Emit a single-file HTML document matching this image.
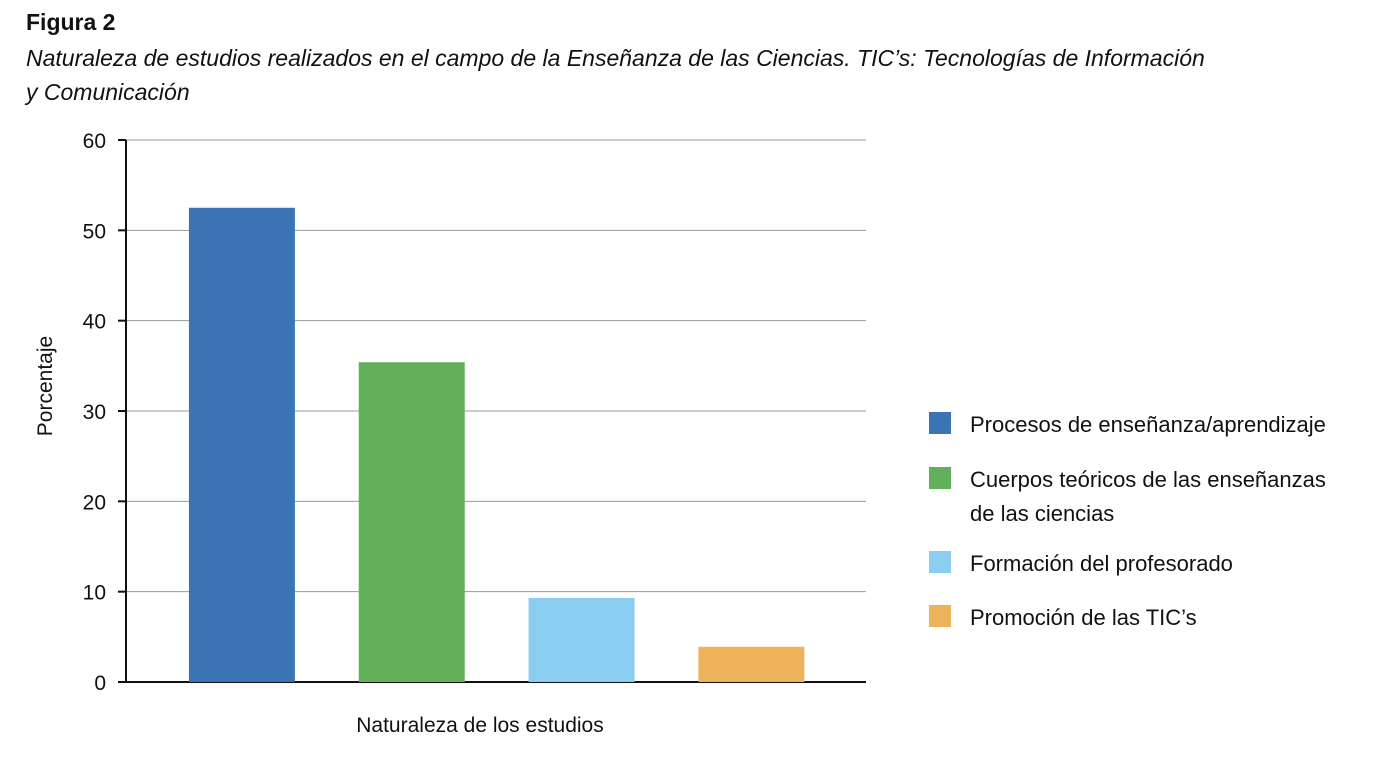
<!DOCTYPE html>
<html><head><meta charset="utf-8"><style>
body{margin:0;background:#fff;width:1384px;height:760px;overflow:hidden;font-family:"Liberation Sans",sans-serif;}
</style></head><body>
<svg width="1384" height="760" xmlns="http://www.w3.org/2000/svg" font-family="Liberation Sans, sans-serif">
<text x="26" y="30" font-size="23" font-weight="bold" fill="#111">Figura 2</text>
<text x="26" y="66" font-size="23" font-style="italic" fill="#111">Naturaleza de estudios realizados en el campo de la Enseñanza de las Ciencias. TIC’s: Tecnologías de Información</text>
<text x="26" y="100" font-size="23" font-style="italic" fill="#111">y Comunicación</text>
<g id="grid"></g><g id="bars"></g><g id="axis"></g>
<text x="480" y="732" font-size="21" text-anchor="middle" fill="#111">Naturaleza de los estudios</text>
<text transform="translate(52,386) rotate(-90)" font-size="21" text-anchor="middle" fill="#111">Porcentaje</text>
<g id="legend"></g>
</svg>
<script>
const categories=["Procesos de enseñanza/aprendizaje","Cuerpos teóricos de las enseñanzas|de las ciencias","Formación del profesorado","Promoción de las TIC’s"];
const values=[52.5,35.4,9.3,3.9];
const colors=["#3b74b4","#62b05a","#8bcdf1","#ecb35a"];
const ticks=[0,10,20,30,40,50,60];
const NS="http://www.w3.org/2000/svg";
const x0=126,x1=866,yB=682,yT=140;
const y=v=>yB-(v/60)*(yB-yT);
const band=(x1-x0)/categories.length*0.918, start=157;
const cx=i=>start+band*(i+0.5);
function mk(t,a,p){const e=document.createElementNS(NS,t);for(const k in a)e.setAttribute(k,a[k]);p.appendChild(e);return e;}
const grid=document.getElementById('grid'),axis=document.getElementById('axis'),bars=document.getElementById('bars'),leg=document.getElementById('legend');
ticks.forEach(t=>{
 const l=mk('line',{x1:x0,x2:x1,y1:y(t),y2:y(t),stroke:t===0?'#111':'#999','stroke-width':t===0?2:1},grid);
 
 
 const tk=mk('line',{x1:x0-8,x2:x0,y1:y(t),y2:y(t),stroke:'#111','stroke-width':2},axis);
 
 
 const tx=mk('text',{x:106,y:y(t)+8,'font-size':21,'text-anchor':'end',fill:'#111'},axis);
 tx.textContent=t;
 
 
});
const ax=mk('line',{x1:x0,x2:x0,y1:yT,y2:yB+1,stroke:'#111','stroke-width':2},axis);


values.forEach((v,i)=>{
 const r=mk('rect',{x:cx(i)-53,y:y(v),width:106,height:yB-y(v),fill:colors[i]},bars);
 
 
});
const ly=[424,479,563,617];
categories.forEach((c,i)=>{
 const r=mk('rect',{x:929,y:ly[i]-12,width:22,height:22,fill:colors[i]},leg);
 
 
 c.split('|').forEach((s,j)=>{
  const t=mk('text',{x:970,y:ly[i]+8+j*34,'font-size':22,fill:'#111'},leg);
  t.textContent=s;
  
  
 });
});
</script>
</body></html>
